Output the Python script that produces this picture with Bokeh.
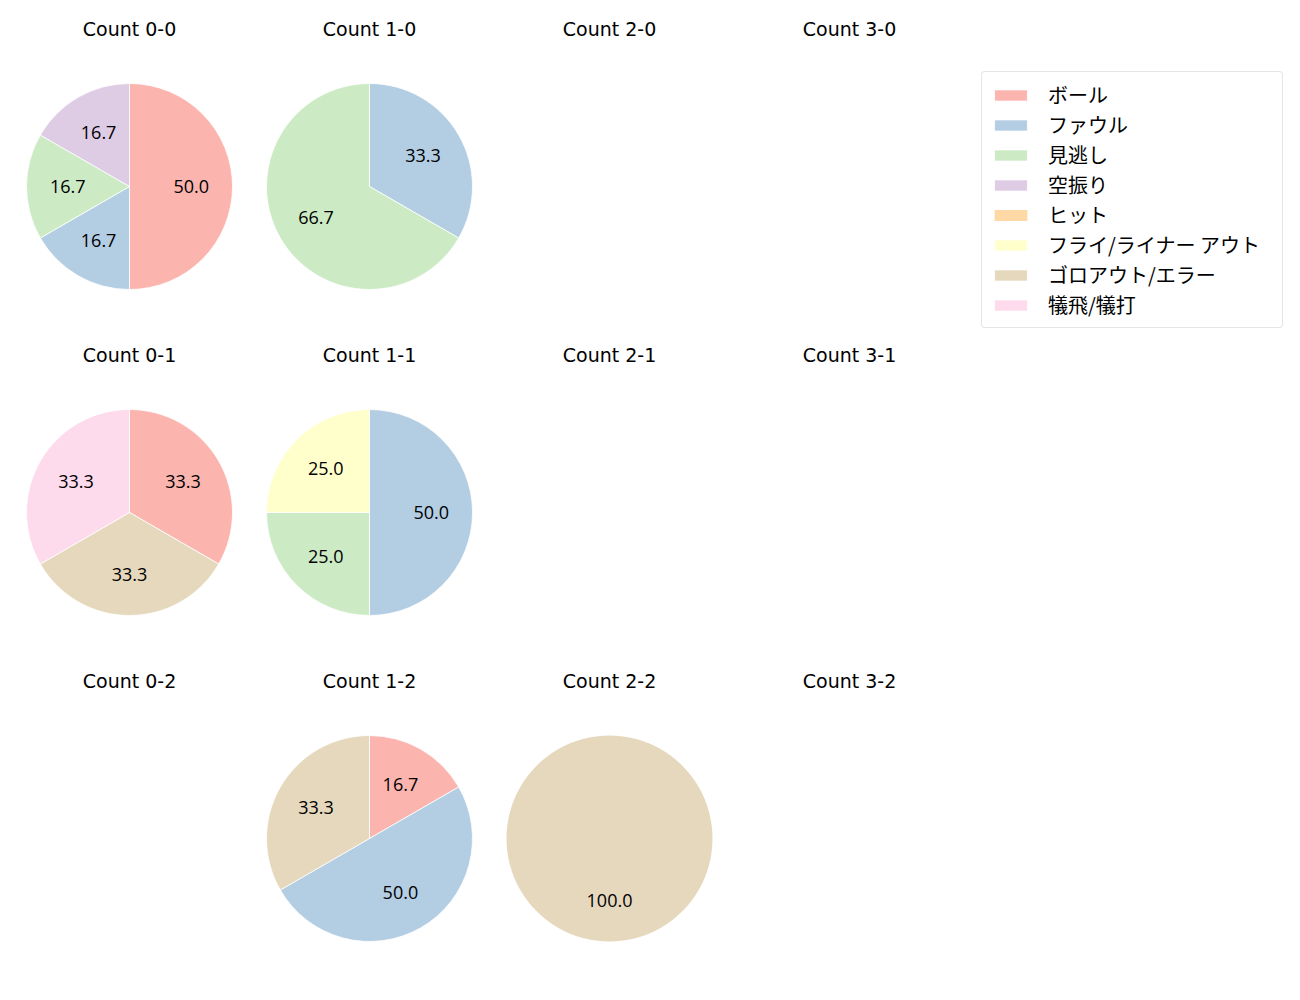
import math
from bokeh.plotting import figure
from bokeh.models import ColumnDataSource, Range1d, Legend, LegendItem
from bokeh.core.properties import value
from bokeh.embed import file_html
from bokeh.resources import INLINE

# --- data ---
counts = ["0-0", "1-0", "2-0", "3-0",
          "0-1", "1-1", "2-1", "3-1",
          "0-2", "1-2", "2-2", "3-2"]
categories = ["ボール", "ファウル", "見逃し", "空振り", "ヒット",
              "フライ/ライナー アウト", "ゴロアウト/エラー", "犠飛/犠打"]
colors = ["#fbb4ae", "#b3cde3", "#ccebc5", "#decbe4", "#fed9a6",
          "#ffffcc", "#e5d8bd", "#fddaec"]
# pitch counts per category, one entry per count (order of `counts`)
ball     = [3, 0, 0, 0, 1, 0, 0, 0, 0, 1, 0, 0]
foul     = [1, 1, 0, 0, 0, 2, 0, 0, 0, 3, 0, 0]
called   = [1, 2, 0, 0, 0, 1, 0, 0, 0, 0, 0, 0]
swinging = [1, 0, 0, 0, 0, 0, 0, 0, 0, 0, 0, 0]
hit      = [0, 0, 0, 0, 0, 0, 0, 0, 0, 0, 0, 0]
fly      = [0, 0, 0, 0, 0, 1, 0, 0, 0, 0, 0, 0]
grounder = [0, 0, 0, 0, 1, 0, 0, 0, 0, 2, 1, 0]
sacrifice= [0, 0, 0, 0, 1, 0, 0, 0, 0, 0, 0, 0]
series = [ball, foul, called, swinging, hit, fly, grounder, sacrifice]

W, H = 1300, 1000
R = 103
JP_FONT = "Noto Sans CJK JP"
NUM_FONT = "Open Sans"
TITLE_FONT = "DejaVu Sans"

p = figure(width=W, height=H, output_backend="svg", toolbar_location=None,
           x_range=Range1d(0, W), y_range=Range1d(0, H),
           x_axis_location=None, y_axis_location=None, min_border=0)
p.grid.visible = False
p.outline_line_color = None

def center(k):
    row, col = divmod(k, 4)
    return 129 + 240 * col, H - (186 + 326 * row)

wedge_data = {c: dict(x=[], y=[], r=[], start=[], end=[], la=[])
              for c in range(len(categories))}
lab = dict(x=[], y=[], t=[])
tit = dict(x=[], y=[], t=[])
for k, cnt in enumerate(counts):
    cx, cy = center(k)
    tit["x"].append(cx)
    tit["y"].append(cy + 158)
    tit["t"].append(f"Count {cnt}")
    total = sum(s[k] for s in series)
    if total == 0:
        continue
    cum = 0.0
    for ci, s in enumerate(series):
        v = s[k]
        if v == 0:
            continue
        frac = v / total
        a0 = math.pi / 2 - 2 * math.pi * cum
        a1 = math.pi / 2 - 2 * math.pi * (cum + frac)
        full = frac >= 0.9999
        if full:
            a1 = a0 - 2 * math.pi + 1e-4
        d = wedge_data[ci]
        d["x"].append(cx); d["y"].append(cy); d["r"].append(R)
        d["start"].append(a0); d["end"].append(a1)
        d["la"].append(0.0 if full else 1.0)
        am = math.pi / 2 - 2 * math.pi * (cum + frac / 2)
        lab["x"].append(cx + 0.6 * R * math.cos(am))
        lab["y"].append(cy + 0.6 * R * math.sin(am))
        lab["t"].append(f"{100 * frac:.1f}")
        cum += frac

items = []
cx0, cy0 = center(0)
for ci, name in enumerate(categories):
    d = wedge_data[ci]
    if not d["x"]:
        # zero-radius placeholder so the legend still shows this category
        d.update(x=[cx0], y=[cy0], r=[0], start=[0.0], end=[0.0], la=[0.0])
    src = ColumnDataSource(d)
    r = p.wedge(x="x", y="y", radius="r", start_angle="start", end_angle="end",
                direction="clock", source=src, fill_color=colors[ci],
                line_color="white", line_width=0.8, line_alpha="la")
    items.append(LegendItem(label=name, renderers=[r]))

p.text(x="x", y="y", text="t", source=ColumnDataSource(lab),
       text_align="center", text_baseline="middle", text_font=value(NUM_FONT),
       text_font_size="18px", text_color="black")
p.text(x="x", y="y", text="t", source=ColumnDataSource(tit),
       text_align="center", text_baseline="middle", text_font=value(TITLE_FONT),
       text_font_size="19px", text_color="black")

legend = Legend(items=items, location=(981, H - 328), orientation="vertical",
                glyph_width=41, glyph_height=14, label_height=20,
                label_width=226,
                spacing=1, padding=8, margin=0, label_standoff=17,
                label_text_font=JP_FONT, label_text_font_size="20px",
                label_text_color="black",
                border_line_color="#cccccc", border_line_width=1,
                background_fill_alpha=1.0)
try:
    legend.border_radius = 4
except Exception:
    pass
p.add_layout(legend, "center")

open("out.html", "w").write(file_html(p, INLINE))
